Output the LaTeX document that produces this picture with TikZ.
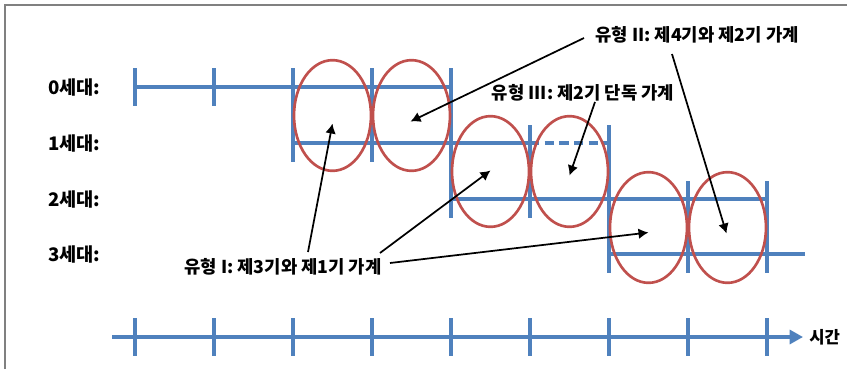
\documentclass[tikz,border=0pt]{standalone}
\usepackage{fontspec}
\setmainfont{Noto Sans CJK KR}
\usepackage{tikz}
\usetikzlibrary{arrows.meta,calc,shapes.geometric}
\definecolor{trackblue}{RGB}{79,129,189}
\definecolor{cohortred}{RGB}{192,80,77}
\tikzset{
  genlabel/.style={font=\bfseries\fontsize{14}{16}\selectfont, anchor=west, inner sep=0pt},
  note/.style={font=\bfseries\fontsize{13.3}{15}\selectfont, inner sep=0pt},
  track/.style={trackblue, line width=2.3pt},
  tickmark/.style={trackblue, line width=2.3pt},
  cohort/.style={draw=cohortred, ellipse, line width=2pt, minimum width=57.75pt, minimum height=83pt, inner sep=0pt},
  pointer/.style={-{Latex[length=7.5pt,width=8pt]}, line width=1.3pt, black},
  axis/.style={-{Triangle[length=10pt,width=10.5pt]}, trackblue, line width=2.3pt},
  frame/.style={gray, line width=1.2pt}
}
\begin{document}
\begin{tikzpicture}[x=0.75pt,y=-0.75pt]
  \useasboundingbox (0,0) rectangle (847,369);
  \draw[frame] (5,369) -- (5,5) -- (847,5);

  \node[genlabel] (gen0) at (48,87) {0세대:};
  \node[genlabel] (gen1) at (48,143) {1세대:};
  \node[genlabel] (gen2) at (48,199) {2세대:};
  \node[genlabel] (gen3) at (48,254) {3세대:};

  % generation tracks
  \draw[track] (135,87) -- (451,87);
  \draw[track] (293,143) -- (530,143);
  \draw[track, dash pattern=on 7pt off 4pt] (530,143) -- (609,143);
  \draw[track] (451,199) -- (767,199);
  \draw[track] (609,254) -- (805,254);
  \foreach \x/\ya/\yb in {135/68/106, 214/68/106, 293/68/162, 372/68/162, 451/68/218,
                          530/125/218, 609/125/273, 688/181/273, 767/181/273}
    \draw[tickmark] (\x,\ya) -- (\x,\yb);

  % time axis
  \node[anchor=west, inner sep=0pt, font=\bfseries\fontsize{12.5}{14}\selectfont] (time) at (809,337) {시간};
  \draw[axis] (112,337) -- ([xshift=-4.5pt]time.west);
  \foreach \x in {135,214,...,767}
    \draw[tickmark] (\x,318) -- (\x,356);

  % cohorts
  \node[cohort] (e1) at (332.5,115.5) {};
  \node[cohort] (e2) at (411.5,115.5) {};
  \node[cohort] (e3) at (490.5,171.5) {};
  \node[cohort] (e4) at (569.5,171.5) {};
  \node[cohort] (e5) at (648.5,227.5) {};
  \node[cohort] (e6) at (727.5,227.5) {};

  \node[note] (typeI) at (283,267) {유형 I: 제3기와 제1기 가계};
  \node[note] (typeII) at (697,35) {유형 II: 제4기와 제2기 가계};
  \node[note] (typeIII) at (583,93) {유형 III: 제2기 단독 가계};

  \draw[pointer] ($(typeI)+(25,-15)$) -- ($(e1)+(0,8)$);
  \draw[pointer] ($(typeI)+(97,-14)$) -- ($(e3)+(0,-1)$);
  \draw[pointer] ($(typeI)+(107,-4)$) -- ($(e5)+(0,5)$);
  \draw[pointer] ($(typeII)+(-113,3)$) -- ($(e2)+(-1,6)$);
  \draw[pointer] ($(typeII)+(-25,19)$) -- ($(e6)+(-1,6)$);
  \draw[pointer] ($(typeIII)+(12,9)$) -- ($(e4)+(0,4)$);
\end{tikzpicture}
\end{document}
